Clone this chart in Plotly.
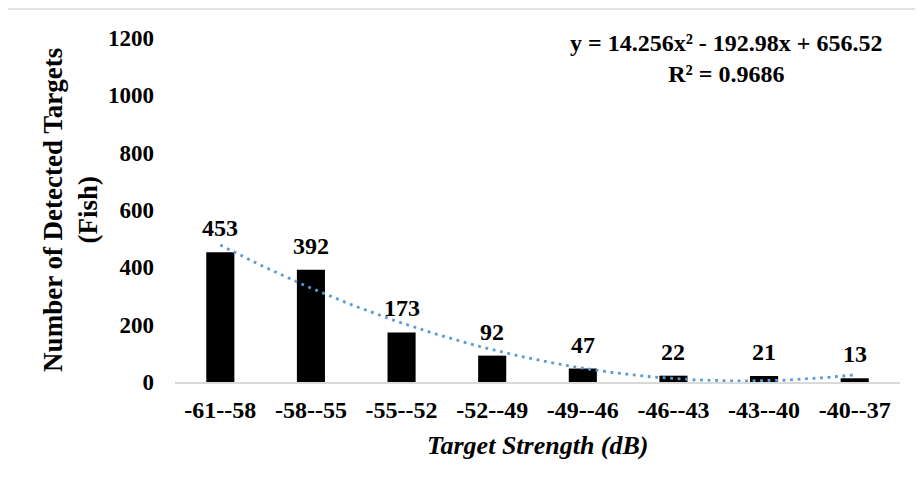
import numpy as np
import plotly.graph_objects as go

categories = ["-61--58", "-58--55", "-55--52", "-52--49", "-49--46", "-46--43", "-43--40", "-40--37"]
counts = [453, 392, 173, 92, 47, 22, 21, 13]
trend_coeffs = [14.256, -192.98, 656.52]  # y = a*x^2 + b*x + c, x = 1..N
r_squared = 0.9686
y_ticks = [0, 200, 400, 600, 800, 1000, 1200]

FONT = "Liberation Serif"
pos = list(range(len(categories)))

# trendline evaluated from the displayed equation across category positions
t = np.linspace(0, len(categories) - 1, 200)
xx = t + 1
trend_y = trend_coeffs[0] * xx**2 + trend_coeffs[1] * xx + trend_coeffs[2]

fig = go.Figure()
fig.add_trace(go.Bar(
    x=pos, y=counts, width=0.31,
    marker=dict(color="black", line=dict(width=0)),
    hoverinfo="skip", showlegend=False,
))
fig.add_trace(go.Scatter(
    x=t, y=trend_y, mode="lines",
    line=dict(color="#5b9bd5", width=2.8, dash="2.8px,4.7px"),
    hoverinfo="skip", showlegend=False,
))

annotations = []
for p, v in zip(pos, counts):
    annotations.append(dict(
        x=p, y=v, xref="x", yref="y", text=str(v), showarrow=False,
        yanchor="bottom", yshift=9,
        font=dict(family=FONT, size=24, color="black", weight="bold"),
    ))

eq_text = (f"y = {trend_coeffs[0]:.3f}x² - {abs(trend_coeffs[1]):.2f}x + {trend_coeffs[2]:.2f}"
           f"<br>R² = {r_squared}")
annotations.append(dict(
    x=0.761, y=0.94, xref="paper", yref="paper", text=eq_text, showarrow=False,
    xanchor="center", yanchor="middle", align="center",
    font=dict(family=FONT, size=24, color="black", weight="bold"),
))
annotations.append(dict(
    x=-0.145, y=0.5, xref="paper", yref="paper",
    text="Number of Detected Targets<br>(Fish)", showarrow=False, textangle=-90,
    xanchor="center", yanchor="middle", align="center",
    font=dict(family=FONT, size=27, color="black", weight="bold"),
))
annotations.append(dict(
    x=0.5, y=-0.186, xref="paper", yref="paper",
    text="Target Strength (dB)", showarrow=False,
    xanchor="center", yanchor="middle",
    font=dict(family=FONT, size=26, color="black", weight="bold", style="italic"),
))

fig.update_layout(
    width=915, height=483,
    margin=dict(l=167, r=23, t=30, b=109),
    paper_bgcolor="white", plot_bgcolor="white",
    annotations=annotations,
    shapes=[dict(type="rect", xref="paper", yref="paper",
                 x0=-0.2345, x1=1.3, y0=-0.6, y1=1.0843,
                 line=dict(color="#d9d9d9", width=1.5), layer="below")],
    bargap=0.69,
)
fig.update_xaxes(
    range=[-0.5, len(categories) - 0.5],
    tickmode="array", tickvals=pos, ticktext=categories,
    showline=True, linecolor="#d9d9d9", linewidth=2,
    showgrid=False, zeroline=False, ticks="",
    ticklabelstandoff=5,
    tickfont=dict(family=FONT, size=24, color="black", weight="bold"),
)
fig.update_yaxes(
    range=[0, 1200], tickmode="array", tickvals=y_ticks,
    showline=False, showgrid=False, zeroline=False, ticks="",
    ticklabelstandoff=20,
    tickfont=dict(family=FONT, size=23, color="black", weight="bold"),
)

fig.write_html("out.html")
